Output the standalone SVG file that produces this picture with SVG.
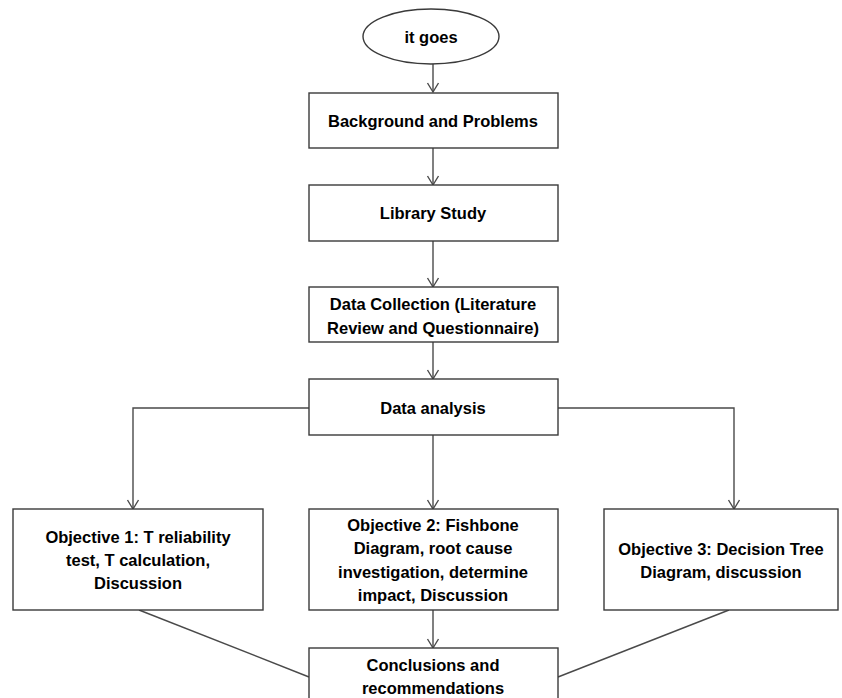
<svg xmlns="http://www.w3.org/2000/svg" width="842" height="698" viewBox="0 0 842 698">
<style>
.box{fill:#fff;stroke:#3a3a3a;stroke-width:1.4}
.t{font-family:"Liberation Sans",Arial,sans-serif;font-weight:bold;font-size:16.5px;fill:#000;text-anchor:middle}
.c{fill:none;stroke:#4a4a4a;stroke-width:1.4}
</style>
<defs>
<marker id="arr" markerUnits="userSpaceOnUse" viewBox="-11 -7 13 14" refX="0" refY="0" markerWidth="13" markerHeight="14" orient="auto">
<path d="M-9,-5.5 L0,0 L-9,5.5" fill="none" stroke="#4a4a4a" stroke-width="1.4"/>
</marker>
</defs>
<rect width="842" height="698" fill="#fff"/>
<g id="connectors">
<path class="c" d="M433,64 V92" marker-end="url(#arr)"/>
<path class="c" d="M433,148 V185" marker-end="url(#arr)"/>
<path class="c" d="M433,241 V287" marker-end="url(#arr)"/>
<path class="c" d="M433,342 V379" marker-end="url(#arr)"/>
<path class="c" d="M309,408 H133 V509" marker-end="url(#arr)"/>
<path class="c" d="M433,435 V509" marker-end="url(#arr)"/>
<path class="c" d="M558,408 H734 V509" marker-end="url(#arr)"/>
<path class="c" d="M433,610 V648" marker-end="url(#arr)"/>
<path class="c" d="M139,610 L309,677"/>
<path class="c" d="M729,610 L558,677"/>
</g>
<g id="start">
<ellipse class="box" cx="431" cy="36.5" rx="68" ry="27.5"/>
<text class="t" x="431" y="42.5">it goes</text>
</g>
<g id="background">
<rect class="box" x="309" y="93" width="249" height="55"/>
<text class="t" x="433" y="126.5">Background and Problems</text>
</g>
<g id="library">
<rect class="box" x="309" y="185" width="249" height="56"/>
<text class="t" x="433" y="218.5">Library Study</text>
</g>
<g id="collection">
<rect class="box" x="309" y="287" width="249" height="55"/>
<text class="t" x="433" y="309.5">Data Collection  (Literature</text>
<text class="t" x="433" y="333.5">Review and Questionnaire)</text>
</g>
<g id="analysis">
<rect class="box" x="309" y="379" width="249" height="56"/>
<text class="t" x="433" y="413.5">Data analysis</text>
</g>
<g id="objective1">
<rect class="box" x="13" y="509" width="250" height="101"/>
<text class="t" x="138" y="542.5">Objective 1: T reliability</text>
<text class="t" x="138" y="565.5">test, T calculation,</text>
<text class="t" x="138" y="588.5">Discussion</text>
</g>
<g id="objective2">
<rect class="box" x="309" y="509" width="249" height="101"/>
<text class="t" x="433" y="530.5">Objective 2: Fishbone</text>
<text class="t" x="433" y="553.5">Diagram, root cause</text>
<text class="t" x="433" y="577.5">investigation, determine</text>
<text class="t" x="433" y="600.5">impact, Discussion</text>
</g>
<g id="objective3">
<rect class="box" x="604" y="509" width="234" height="101"/>
<text class="t" x="721" y="554.5">Objective 3: Decision Tree</text>
<text class="t" x="721" y="577.5">Diagram, discussion</text>
</g>
<g id="conclusions">
<rect class="box" x="309" y="648" width="249" height="60"/>
<text class="t" x="433" y="670.5">Conclusions and</text>
<text class="t" x="433" y="693.5">recommendations</text>
</g>
</svg>
